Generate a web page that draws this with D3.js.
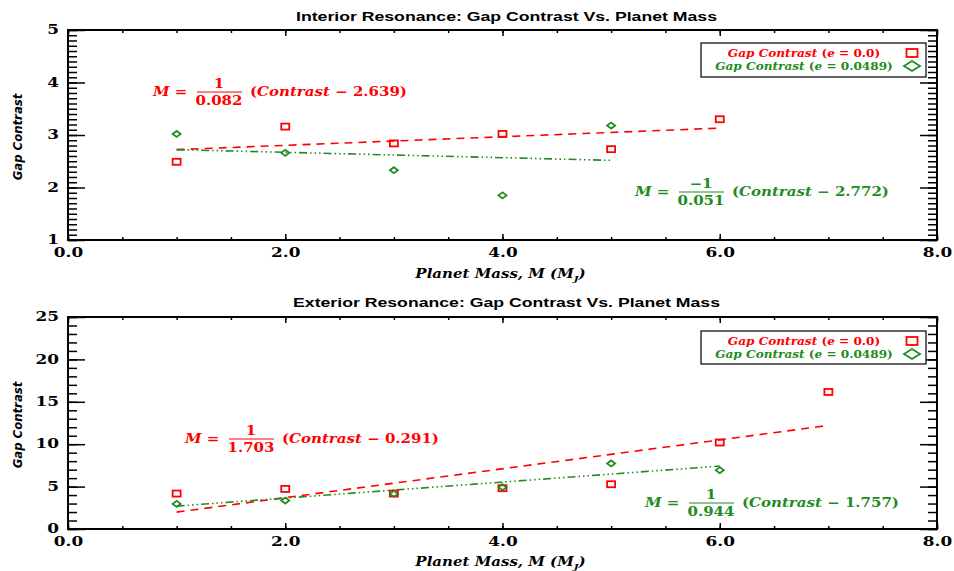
<!DOCTYPE html>
<html>
<head>
<meta charset="utf-8">
<script src="https://cdn.jsdelivr.net/npm/d3@7"></script>
<style>
body { margin: 0; background: #fff; }
.axis text { font-family: "DejaVu Serif", serif; font-weight: bold; font-size: 13px; fill: #000; }
.axis line { stroke: #000; stroke-width: 1.5; }
.axis path { display: none; }
</style>
</head>
<body>
<svg id="chart" width="954" height="571"></svg>
<script>
// values
var massRedInt = [1, 2, 3, 4, 5, 6],
    contrastRedInt = [2.49, 3.16, 2.84, 3.02, 2.73, 3.30];
var massGreenInt = [1, 2, 3, 4, 5],
    contrastGreenInt = [3.02, 2.66, 2.33, 1.85, 3.18];
var massRedExt = [1, 2, 3, 4, 5, 6, 7],
    contrastRedExt = [4.18, 4.73, 4.18, 4.81, 5.28, 10.2, 16.16];
var massGreenExt = [1, 2, 3, 4, 5, 6],
    contrastGreenExt = [2.96, 3.35, 4.14, 4.93, 7.73, 6.94];

// linear fits, Contrast = intercept + slope * M  (shown as M = 1/slope (Contrast - intercept))
var fitSlope = [0.082, -0.051, 1.703, 0.944],
    fitIntercept = [2.639, 2.772, 0.291, 1.757];

var legendE = ["0.0", "0.0489"];
var xTicks = [0, 2, 4, 6, 8];

var red = "#ff0000", green = "#228b22";
var SX = 1.25;   // text in the reference is stretched sideways

var svg = d3.select("#chart");
var left = 68, right = 937;

var x = d3.scaleLinear().domain([0, 8]).range([left, right]);

var panels = [
    {title: "Interior Resonance: Gap Contrast Vs. Planet Mass", titleY: 21,
     top: 30, bottom: 240, yDomain: [1, 5], yMajor: 1, yMinor: 0.1,
     labelY: 278, ylabY: 137, legendTop: 43, legendH: 34,
     series: [
        {mass: massRedInt, val: contrastRedInt, fit: 0, color: red, shape: "square", dash: "8,6", eq: [153, 96]},
        {mass: massGreenInt, val: contrastGreenInt, fit: 1, color: green, shape: "diamond", dash: "8,3,1.5,3,1.5,3,1.5,3", eq: [635, 196]}
     ]},
    {title: "Exterior Resonance: Gap Contrast Vs. Planet Mass", titleY: 307,
     top: 317, bottom: 529, yDomain: [0, 25], yMajor: 5, yMinor: 1,
     labelY: 566, ylabY: 425, legendTop: 331, legendH: 33,
     series: [
        {mass: massRedExt, val: contrastRedExt, fit: 2, color: red, shape: "square", dash: "8,6", eq: [185, 443]},
        {mass: massGreenExt, val: contrastGreenExt, fit: 3, color: green, shape: "diamond", dash: "8,3,1.5,3,1.5,3,1.5,3", eq: [645, 507]}
     ]}
];

// stretched text helper
function stext(g, px, py, sx) {
    return g.append("g")
        .attr("transform", "translate(" + px + "," + py + ") scale(" + sx + ",1)")
      .append("text");
}

function marker(g, shape, cx, cy, w, h, color) {
    if (shape == "square") {
        g.append("rect")
            .attr("x", cx - w / 2).attr("y", cy - h / 2)
            .attr("width", w).attr("height", h)
            .attr("fill", "none").attr("stroke", color).attr("stroke-width", 1.8);
    } else {
        g.append("path")
            .attr("d", "M" + (cx - w / 2) + "," + cy + "L" + cx + "," + (cy - h / 2) +
                       "L" + (cx + w / 2) + "," + cy + "L" + cx + "," + (cy + h / 2) + "Z")
            .attr("fill", "none").attr("stroke", color).attr("stroke-width", 1.8);
    }
}

var f3 = d3.format(".3f");

panels.forEach(function(p) {
    var y = d3.scaleLinear().domain(p.yDomain).range([p.bottom, p.top]);
    var g = svg.append("g");
    var yMaj = d3.range(p.yDomain[0], p.yDomain[1] + 1e-9, p.yMajor),
        yMin = d3.range(p.yDomain[0], p.yDomain[1] + 1e-9, p.yMinor),
        xMin = d3.range(0, 8 + 1e-9, 0.5);

    // axes, ticks pointing inwards on all four sides
    g.append("g").attr("class", "axis").attr("transform", "translate(0," + p.bottom + ")")
        .call(d3.axisBottom(x).tickValues(xMin).tickSize(-3).tickFormat(""));
    var xb = g.append("g").attr("class", "axis").attr("transform", "translate(0," + p.bottom + ")")
        .call(d3.axisBottom(x).tickValues(xTicks).tickSize(-6).tickPadding(8).tickFormat(d3.format(".1f")));
    xb.selectAll("text").attr("transform", "scale(1.3,1)");
    g.append("g").attr("class", "axis").attr("transform", "translate(0," + p.top + ")")
        .call(d3.axisTop(x).tickValues(xMin).tickSize(-3).tickFormat(""));
    g.append("g").attr("class", "axis").attr("transform", "translate(0," + p.top + ")")
        .call(d3.axisTop(x).tickValues(xTicks).tickSize(-6).tickFormat(""));

    g.append("g").attr("class", "axis").attr("transform", "translate(" + left + ",0)")
        .call(d3.axisLeft(y).tickValues(yMin).tickSize(-9).tickFormat(""));
    var yl = g.append("g").attr("class", "axis").attr("transform", "translate(" + left + ",0)")
        .call(d3.axisLeft(y).tickValues(yMaj).tickSize(-17).tickPadding(9).tickFormat(d3.format("d")));
    yl.selectAll("text").attr("transform", "scale(1.3,1)").attr("x", -9 / 1.3).attr("dy", "0.28em");
    g.append("g").attr("class", "axis").attr("transform", "translate(" + right + ",0)")
        .call(d3.axisRight(y).tickValues(yMin).tickSize(-9).tickFormat(""));
    g.append("g").attr("class", "axis").attr("transform", "translate(" + right + ",0)")
        .call(d3.axisRight(y).tickValues(yMaj).tickSize(-17).tickFormat(""));

    // frame
    g.append("rect")
        .attr("x", left).attr("y", p.top)
        .attr("width", right - left).attr("height", p.bottom - p.top)
        .attr("fill", "none").attr("stroke", "#000").attr("stroke-width", 2);

    // title
    stext(g, (left + right) / 2 + 4, p.titleY, 1.36)
        .attr("text-anchor", "middle")
        .style("font-family", "'Liberation Sans', Arial, sans-serif")
        .style("font-weight", "bold").style("font-size", "13px")
        .text(p.title);

    // x label
    var xl = stext(g, (left + right) / 2 - 2, p.labelY, SX)
        .attr("text-anchor", "middle")
        .style("font-family", "'DejaVu Serif', serif")
        .style("font-weight", "bold").style("font-style", "italic").style("font-size", "12px");
    xl.append("tspan").text("Planet Mass, M (M");
    xl.append("tspan").attr("dy", 3).style("font-size", "8px").text("J");
    xl.append("tspan").attr("dy", -3).text(")");

    // y label
    g.append("text")
        .attr("transform", "translate(22," + p.ylabY + ") rotate(-90)")
        .attr("text-anchor", "middle")
        .style("font-family", "'Liberation Sans Narrow', 'DejaVu Sans Condensed', sans-serif")
        .style("font-weight", "bold").style("font-style", "italic").style("font-size", "13px")
        .text("Gap Contrast");

    // fit lines
    p.series.forEach(function(s) {
        var ext = d3.extent(s.mass);
        var line = d3.line()
            .x(function(m) { return x(m); })
            .y(function(m) { return y(fitIntercept[s.fit] + fitSlope[s.fit] * m); });
        g.append("path")
            .datum(ext)
            .attr("d", line)
            .attr("fill", "none")
            .attr("stroke", s.color)
            .attr("stroke-width", 1.6)
            .attr("stroke-dasharray", s.dash);
    });

    // points
    p.series.forEach(function(s) {
        s.mass.forEach(function(m, i) {
            marker(g, s.shape, x(m), y(s.val[i]), 8, 6, s.color);
        });
    });

    // equations
    p.series.forEach(function(s) {
        var x0 = s.eq[0], yb = s.eq[1];
        var font = function(t) {
            return t.style("font-family", "'DejaVu Serif', serif")
                .style("font-weight", "bold").style("font-size", "12px")
                .attr("fill", s.color);
        };
        font(stext(g, x0, yb, SX)).style("font-style", "italic").text("M");
        font(stext(g, x0 + 28, yb, SX)).attr("text-anchor", "middle").text("=");
        font(stext(g, x0 + 66, yb - 8, SX)).attr("text-anchor", "middle")
            .text(fitSlope[s.fit] < 0 ? "\u22121" : "1");
        g.append("line")
            .attr("x1", x0 + 44).attr("x2", x0 + 89)
            .attr("y1", yb - 4).attr("y2", yb - 4)
            .attr("stroke", s.color).attr("stroke-width", 1);
        font(stext(g, x0 + 66, yb + 9, SX)).attr("text-anchor", "middle")
            .text(f3(Math.abs(fitSlope[s.fit])));
        var t = font(stext(g, x0 + 97, yb, SX));
        t.append("tspan").text("(");
        t.append("tspan").style("font-style", "italic").text("Contrast");
        t.append("tspan").text(" \u2212 " + f3(fitIntercept[s.fit]) + ")");
    });

    // legend
    var lx = 701, lw = 225;
    g.append("rect")
        .attr("x", lx).attr("y", p.legendTop)
        .attr("width", lw).attr("height", p.legendH)
        .attr("fill", "#fff").attr("stroke", "#000").attr("stroke-width", 1.2);
    p.series.forEach(function(s, i) {
        var ly = p.legendTop + 14 + i * 13;
        var t = stext(g, 804, ly, 1.1)
            .attr("text-anchor", "middle")
            .style("font-family", "'DejaVu Serif', serif")
            .style("font-weight", "bold").style("font-size", "11px")
            .attr("fill", s.color);
        t.append("tspan").style("font-style", "italic").text("Gap Contrast ");
        t.append("tspan").text("(");
        t.append("tspan").style("font-style", "italic").text("e");
        t.append("tspan").text(" = " + legendE[i] + ")");
        if (s.shape == "square") marker(g, s.shape, 912, ly - 4, 11, 8, s.color);
        else marker(g, s.shape, 912, ly - 4, 16, 10, s.color);
    });
});
</script>
</body>
</html>
